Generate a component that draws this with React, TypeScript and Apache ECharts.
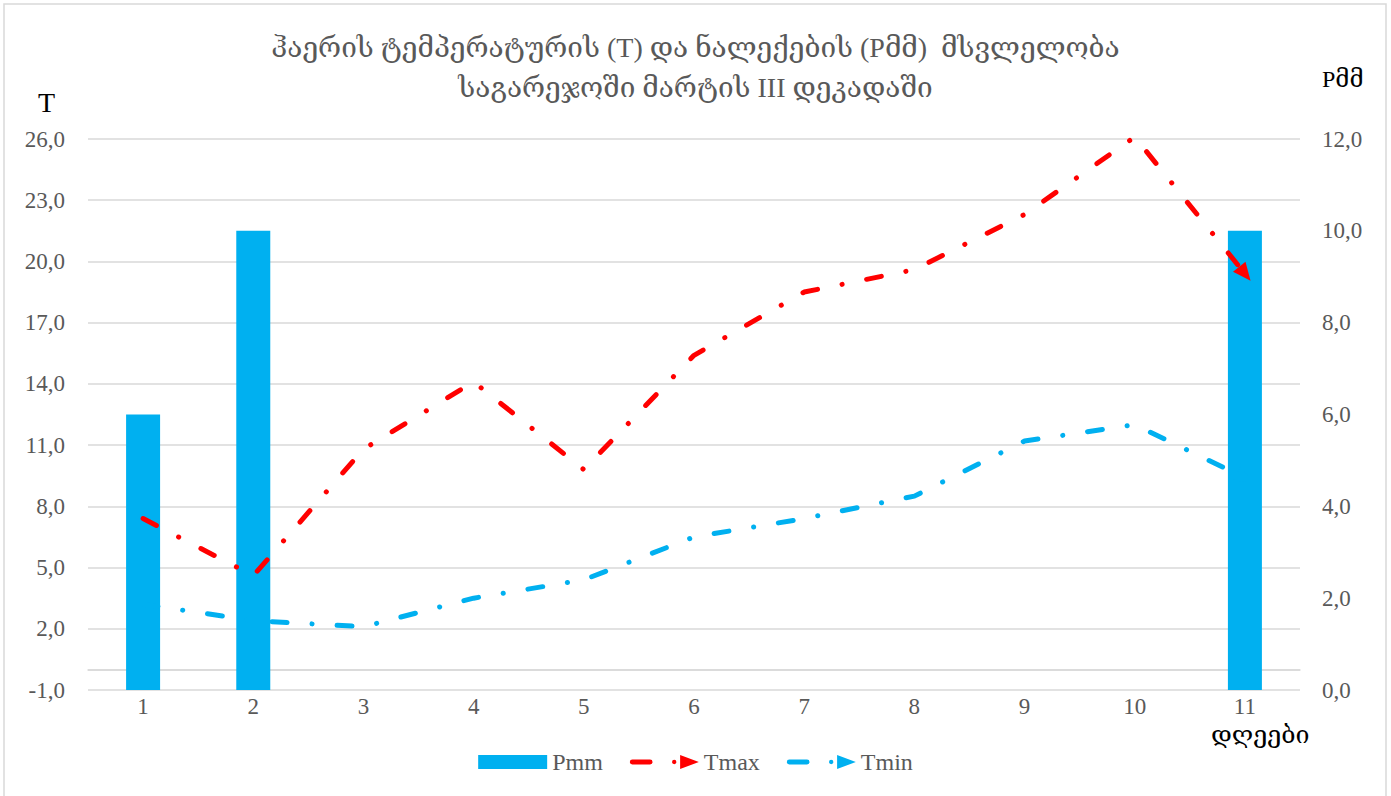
import React, { useEffect, useRef } from "react";
import * as echarts from "echarts";

const days = ["1", "2", "3", "4", "5", "6", "7", "8", "9", "10", "11"];
const pmm: (number | null)[] = [6, 10, null, null, null, null, null, null, null, null, 10];
const tmax = [7.4, 4.6, 10.8, 14.1, 9.8, 15.4, 18.5, 19.6, 22.3, 26.1, 19.4];
const tmin = [3.2, 2.4, 2.1, 3.5, 4.4, 6.5, 7.4, 8.5, 11.2, 12.0, 9.4];

const titleText =
  "ჰაერის ტემპერატურის (T) და ნალექების (Pმმ)  მსვლელობა\nსაგარეჯოში მარტის III დეკადაში";

const FONT = "'Liberation Serif', 'DejaVu Serif', serif";
const GREY = "#595959";
const RED = "#FF0000";
const CYAN = "#00B0F0";

const fmt = (v: number) => v.toFixed(1).replace(".", ",");

const legendIcon =
  "path://M2.5,4.5 L20.5,4.5 A2.5,2.5 0 0 1 20.5,9.5 L2.5,9.5 A2.5,2.5 0 0 1 2.5,4.5 Z M42.8,7 a2.2,2.2 0 1 0 4.4,0 a2.2,2.2 0 1 0 -4.4,0 Z M51,0 L70,7 L51,14 Z";

export default function App() {
  const ref = useRef<HTMLDivElement>(null);
  useEffect(() => {
    document.body.style.margin = "0";
    const chart = echarts.init(ref.current!, null, { renderer: "svg" });
    const lineSeries = (name: string, data: number[], color: string) => ({
      name,
      type: "line",
      yAxisIndex: 0,
      symbol: "none",
      data: data.map((v, i) =>
        i === data.length - 1
          ? { value: v, symbol: "triangle", symbolSize: [16, 18], symbolRotate: 0 }
          : v
      ),
      itemStyle: { color },
      lineStyle: { color, width: 5, type: [15, 25, 0.1, 25], cap: "round", join: "round" },
      z: 3,
    });
    const option: any = {
      animation: false,
      backgroundColor: "#ffffff",
      textStyle: { fontFamily: FONT },
      title: {
        text: titleText,
        left: "center",
        top: 22,
        textStyle: {
          fontFamily: FONT,
          fontSize: 28,
          lineHeight: 40,
          fontWeight: "normal",
          color: GREY,
        },
      },
      grid: { left: 88, right: 91, top: 139, bottom: 106, containLabel: false },
      legend: {
        top: 745,
        left: "center",
        itemWidth: 69,
        itemHeight: 14,
        itemGap: 27,
        textStyle: { fontFamily: FONT, fontSize: 24, color: GREY },
        data: [
          { name: "Pmm", icon: "rect" },
          { name: "Tmax", icon: legendIcon },
          { name: "Tmin", icon: legendIcon },
        ],
      },
      xAxis: {
        type: "category",
        data: days,
        axisLine: { show: true, lineStyle: { color: "#d9d9d9", width: 1.5 } },
        axisTick: { show: false },
        axisLabel: { fontFamily: FONT, fontSize: 23, color: GREY, margin: 5 },
      },
      yAxis: [
        {
          type: "value",
          min: -1,
          max: 26,
          interval: 3,
          axisLine: { show: false },
          axisTick: { show: false },
          axisLabel: { formatter: fmt, fontFamily: FONT, fontSize: 23, color: GREY, margin: 23 },
          splitLine: { lineStyle: { color: "#d9d9d9", width: 1.5 } },
        },
        {
          type: "value",
          min: 0,
          max: 12,
          interval: 2,
          position: "right",
          axisLine: { show: false },
          axisTick: { show: false },
          axisLabel: { formatter: fmt, fontFamily: FONT, fontSize: 23, color: GREY, margin: 22 },
          splitLine: { show: false },
        },
      ],
      series: [
        {
          name: "Pmm",
          type: "bar",
          yAxisIndex: 1,
          data: pmm,
          barWidth: 34,
          itemStyle: { color: CYAN },
          z: 2,
        },
        {
          ...lineSeries("Tmax", tmax, RED),
          markLine: {
            silent: true,
            symbol: "none",
            label: { show: false },
            lineStyle: { color: "#d9d9d9", width: 1.5, type: "solid" },
            data: [{ yAxis: 0 }],
            z: 2,
          },
        },
        lineSeries("Tmin", tmin, CYAN),
      ],
      graphic: [
        {
          type: "rect",
          shape: { x: 4, y: 4, width: 1382, height: 800 },
          style: { fill: "none", stroke: "#d9d9d9", lineWidth: 1.5 },
          silent: true,
        },
        {
          type: "text",
          left: 38,
          top: 88,
          style: { text: "T", fontFamily: FONT, fontSize: 28, fill: "#000" },
        },
        {
          type: "text",
          left: 1322,
          top: 67,
          style: { text: "Pმმ", fontFamily: FONT, fontSize: 24, fill: "#000" },
        },
        {
          type: "text",
          left: 1211,
          top: 722,
          style: { text: "დღეები", fontFamily: FONT, fontSize: 25, fill: "#000" },
        },
      ],
    };
    chart.setOption(option);

    // Orient the end arrows along the last segment of each line.
    const rot = (data: number[]) => {
      const n = data.length;
      const a = chart.convertToPixel({ gridIndex: 0 } as any, [n - 2, data[n - 2]]) as number[];
      const b = chart.convertToPixel({ gridIndex: 0 } as any, [n - 1, data[n - 1]]) as number[];
      const ang = (Math.atan2(-(b[1] - a[1]), b[0] - a[0]) * 180) / Math.PI;
      return ang - 90;
    };
    const withRot = (data: number[]) =>
      data.map((v, i) =>
        i === data.length - 1
          ? { value: v, symbol: "triangle", symbolSize: [16, 18], symbolRotate: rot(data) }
          : v
      );
    chart.setOption({
      series: [{ name: "Pmm" }, { name: "Tmax", data: withRot(tmax) }, { name: "Tmin", data: withRot(tmin) }],
    });

    return () => chart.dispose();
  }, []);
  return <div ref={ref} style={{ width: 1391, height: 796 }} />;
}
